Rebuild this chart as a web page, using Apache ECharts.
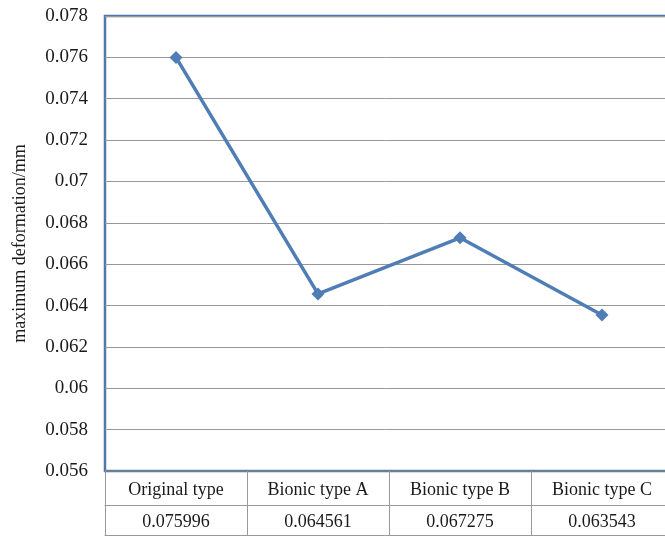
<!DOCTYPE html>
<html><head><meta charset="utf-8">
<script src="https://cdn.jsdelivr.net/npm/echarts@6/dist/echarts.min.js"></script>
<style>html,body{margin:0;padding:0;background:#fff}#c{width:665px;height:536px}</style>
</head><body><div id="c"></div>
<script>
var categories = ['Original type', 'Bionic type A', 'Bionic type B', 'Bionic type C'];
var deformation = [0.075996, 0.064561, 0.067275, 0.063543];
var yMin = 0.056, yMax = 0.078, yStep = 0.002;
var yName = 'maximum deformation/mm';

var chart = echarts.init(document.getElementById('c'));
var serif = '"Liberation Serif", "Times New Roman", serif';
var blue = '#4f7db5';
chart.setOption({
  animation: false,
  grid: { left: 105, top: 16, width: 568, height: 455, show: true, borderColor: '#4f78ad', borderWidth: 2.5,
    backgroundColor: 'transparent', outerBoundsMode: 'none', containLabel: false },
  xAxis: [
    { type: 'category', data: categories, position: 'bottom',
      axisLine: { show: true, lineStyle: { color: '#6d7f95', width: 2 } },
      axisTick: { show: true, interval: 0, length: 65, lineStyle: { color: '#999', width: 1 } },
      axisLabel: { interval: 0, color: '#1a1a1a', fontFamily: serif, fontSize: 18, margin: 10 } },
    { type: 'category', data: categories, position: 'bottom', offset: 34, gridIndex: 0,
      axisLine: { show: true, lineStyle: { color: '#999', width: 1 } },
      axisTick: { show: false },
      axisLabel: { interval: 0, color: '#1a1a1a', fontFamily: serif, fontSize: 18, margin: 8,
        formatter: function (v, i) { return deformation[i].toFixed(6); } } },
    { type: 'category', data: categories, position: 'bottom', offset: 64, gridIndex: 0,
      axisLine: { show: true, lineStyle: { color: '#999', width: 1 } },
      axisTick: { show: false }, axisLabel: { show: false } }
  ],
  yAxis: { type: 'value', min: yMin, max: yMax, interval: yStep,
    name: yName, nameLocation: 'middle', nameGap: 76, nameRotate: 90,
    nameTextStyle: { color: '#1a1a1a', fontFamily: serif, fontSize: 18 },
    axisLine: { show: false }, axisTick: { show: false },
    axisLabel: { color: '#1a1a1a', fontFamily: serif, fontSize: 19, margin: 17 },
    splitLine: { lineStyle: { color: '#999', width: 1 } } },
  series: [{ type: 'line', data: deformation, xAxisIndex: 0,
    symbol: 'diamond', symbolSize: 13, lineStyle: { color: blue, width: 3.5 },
    itemStyle: { color: blue } }]
});
</script></body></html>
